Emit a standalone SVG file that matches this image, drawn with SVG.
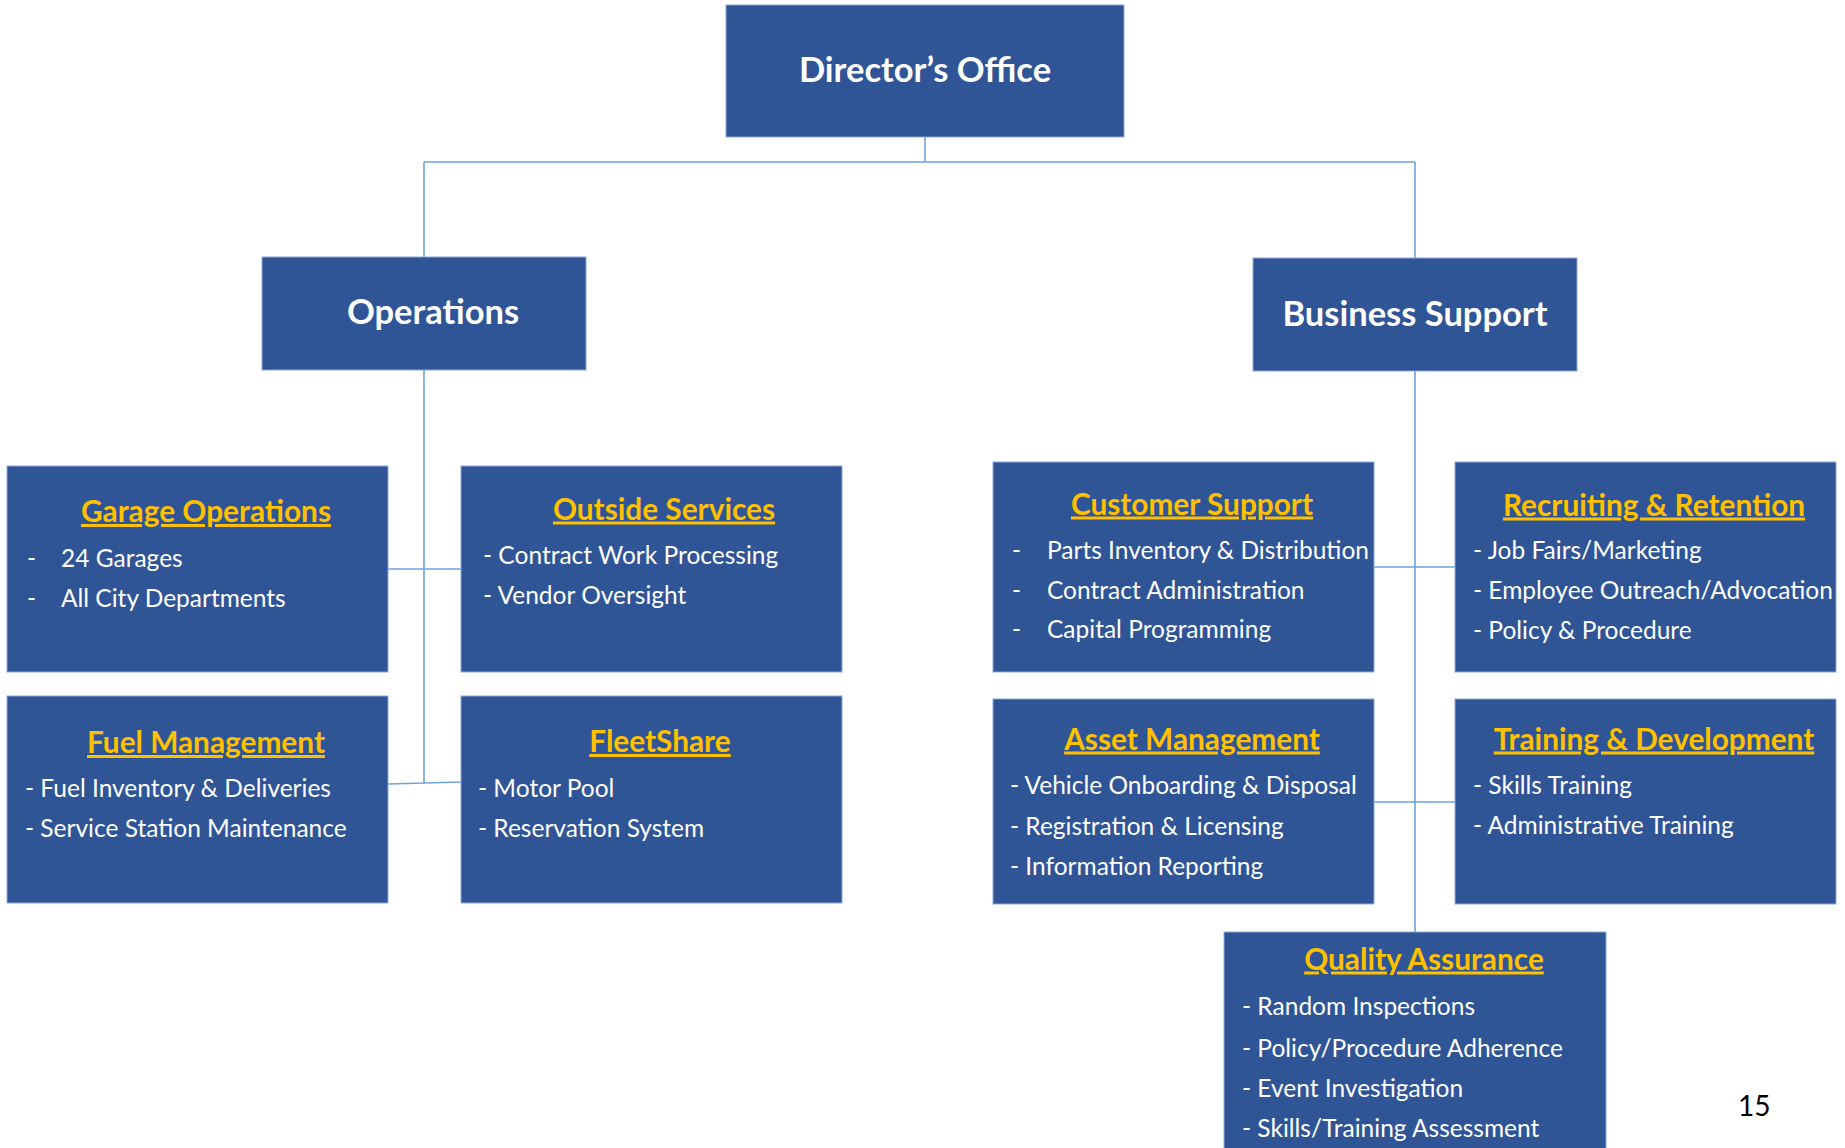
<svg xmlns="http://www.w3.org/2000/svg" width="1845" height="1148" viewBox="0 0 1845 1148">
<style>
.box{fill:#2F5597;stroke:#8EA9DB;stroke-width:1}
.head{font-family:Lato,"Open Sans",sans-serif;font-weight:bold;font-size:34.5px;fill:#fff;text-anchor:middle}
.title{font-family:Lato,"Open Sans",sans-serif;font-weight:bold;font-size:29.8px;fill:#FFC000;text-anchor:middle;text-decoration:underline}
.item{font-family:Lato,"Open Sans",sans-serif;font-size:24.5px;fill:#fff}
.conn{stroke:#6FA3DC;stroke-width:1.6;fill:none}
.pg{font-family:Lato,"Open Sans",sans-serif;font-size:28px;fill:#000}
</style>
<rect width="1845" height="1148" fill="#fff"/>
<g id="connectors">
<path class="conn" d="M925 137V162M424 162H1415M424 162V257M1415 162V258"/>
<path class="conn" d="M424 370V783M388 569H461M388 784L461 782"/>
<path class="conn" d="M1415 371V932M1374 567H1455M1374 802H1455"/>
</g>
<g id="directors-office">
<rect class="box" x="726" y="5" width="398" height="132"/>
<text class="head" x="925" y="82">Director’s Office</text>
</g>
<g id="operations">
<rect class="box" x="262" y="257" width="324" height="113"/>
<text class="head" x="433" y="324">Operations</text>
</g>
<g id="business-support">
<rect class="box" x="1253" y="258" width="324" height="113"/>
<text class="head" x="1415" y="326">Business Support</text>
</g>
<g id="garage-operations">
<rect class="box" x="7" y="466" width="381" height="206"/>
<text class="title" x="206" y="522">Garage Operations</text>
<text class="item" y="566.5"><tspan x="27">-</tspan><tspan x="61">24 Garages</tspan></text>
<text class="item" y="606.5"><tspan x="27">-</tspan><tspan x="61">All City Departments</tspan></text>
</g>
<g id="outside-services">
<rect class="box" x="461" y="466" width="381" height="206"/>
<text class="title" x="664" y="519.5">Outside Services</text>
<text class="item" x="483" y="563.5">- Contract Work Processing</text>
<text class="item" x="483" y="603.5">- Vendor Oversight</text>
</g>
<g id="fuel-management">
<rect class="box" x="7" y="696" width="381" height="207"/>
<text class="title" x="206" y="753">Fuel Management</text>
<text class="item" x="25" y="796.5">- Fuel Inventory &amp; Deliveries</text>
<text class="item" x="25" y="836.5">- Service Station Maintenance</text>
</g>
<g id="fleetshare">
<rect class="box" x="461" y="696" width="381" height="207"/>
<text class="title" x="660" y="752">FleetShare</text>
<text class="item" x="478" y="796.5">- Motor Pool</text>
<text class="item" x="478" y="836.5">- Reservation System</text>
</g>
<g id="customer-support">
<rect class="box" x="993" y="462" width="381" height="210"/>
<text class="title" x="1192" y="514.5">Customer Support</text>
<text class="item" y="558.5"><tspan x="1012">-</tspan><tspan x="1047">Parts Inventory &amp; Distribution</tspan></text>
<text class="item" y="598.5"><tspan x="1012">-</tspan><tspan x="1047">Contract Administration</tspan></text>
<text class="item" y="637.5"><tspan x="1012">-</tspan><tspan x="1047">Capital Programming</tspan></text>
</g>
<g id="recruiting-retention">
<rect class="box" x="1455" y="462" width="381" height="210"/>
<text class="title" x="1654" y="515.5">Recruiting &amp; Retention</text>
<text class="item" x="1473" y="558.5">- Job Fairs/Marketing</text>
<text class="item" x="1473" y="598.5">- Employee Outreach/Advocation</text>
<text class="item" x="1473" y="638.5">- Policy &amp; Procedure</text>
</g>
<g id="asset-management">
<rect class="box" x="993" y="699" width="381" height="205"/>
<text class="title" x="1192" y="749.5">Asset Management</text>
<text class="item" x="1010" y="793.5">- Vehicle Onboarding &amp; Disposal</text>
<text class="item" x="1010" y="834.5">- Registration &amp; Licensing</text>
<text class="item" x="1010" y="874.5">- Information Reporting</text>
</g>
<g id="training-development">
<rect class="box" x="1455" y="699" width="381" height="205"/>
<text class="title" x="1654" y="749.5">Training &amp; Development</text>
<text class="item" x="1473" y="793.5">- Skills Training</text>
<text class="item" x="1473" y="833.5">- Administrative Training</text>
</g>
<g id="quality-assurance">
<rect class="box" x="1224" y="932" width="382" height="230"/>
<text class="title" x="1424" y="969.5">Quality Assurance</text>
<text class="item" x="1242" y="1014.5">- Random Inspections</text>
<text class="item" x="1242" y="1056.5">- Policy/Procedure Adherence</text>
<text class="item" x="1242" y="1096.5">- Event Investigation</text>
<text class="item" x="1242" y="1136.5">- Skills/Training Assessment</text>
</g>
<text class="pg" x="1738" y="1116">15</text>
</svg>
